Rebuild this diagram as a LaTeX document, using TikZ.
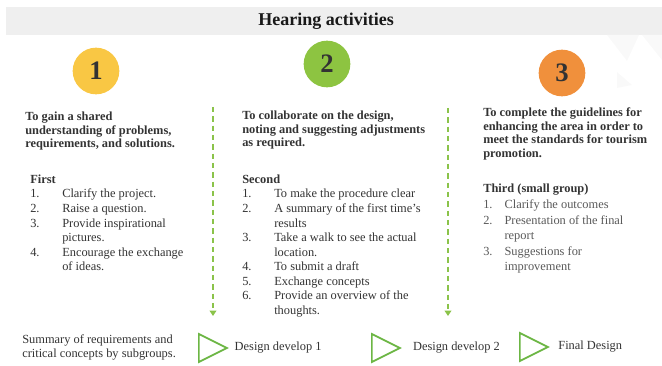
\documentclass[tikz,border=0pt]{standalone}
\usepackage{fontspec}
\setmainfont{Liberation Serif}
\usetikzlibrary{positioning,arrows.meta,shapes.geometric}

\definecolor{stepyellow}{HTML}{F9C744}
\definecolor{stepgreen}{HTML}{8DC441}
\definecolor{steporange}{HTML}{F0903C}
\definecolor{flowgreen}{HTML}{8BC34A}
\definecolor{markgreen}{HTML}{6CB644}
\definecolor{bandgray}{HTML}{EFEFEF}
\definecolor{inkgray}{HTML}{333333}

\newcommand{\bodysize}{\fontsize{9.3}{10.9}\selectfont}

\begin{document}
\begin{tikzpicture}[x=0.75pt, y=-0.75pt, font=\bodysize, text=inkgray,
	badge/.style = { circle, minimum size=35pt, inner sep=0pt,
	font=\fontsize{20}{20}\bfseries\selectfont, text=black!80 },
	heading/.style = { anchor=north west, inner sep=0pt, align=left,
	font=\fontsize{9.3}{10.1}\bfseries\selectfont },
	steps/.style = { anchor=north west, inner sep=0pt },
	flow/.style = { draw=flowgreen, line width=1.5pt,
	dash pattern=on 4pt off 3pt, -{Triangle[width=5pt,length=4pt]} },
	marker/.style = { isosceles triangle, isosceles triangle stretches,
	draw=markgreen, line width=1.3pt, minimum width=21pt,
	minimum height=21pt, inner sep=0pt, anchor=west },
	caption/.style = { anchor=west, inner sep=0pt, align=left } ]

  \useasboundingbox (0,0) rectangle (662,366);

  % title band and the faint marks behind it
  \fill [bandgray] (6,7) rectangle (662,35);
  \fill [gray!5] (607,35) -- (639,35) -- (627,61) -- cycle;
  \fill [gray!5] (642,35) -- (662,35) -- (662,60) -- cycle;
  \fill [gray!5] (617,72) -- (617,88) -- (632,85) -- cycle;
  \node [name=title, font=\fontsize{13.5}{16}\bfseries\selectfont,
	text=black!90] at (326,21) { Hearing activities };

  % numbered badges
  \node [name=one, badge, fill=stepyellow] at (96,71) { 1 };
  \node [name=two, badge, fill=stepgreen] at (327,64) { 2 };
  \node [name=three, badge, fill=steporange] at (562,73) { 3 };

  % first session
  \node [name=aim1, heading] at (25,112)
	{ To gain a shared\\ understanding of problems,\\
	requirements, and solutions. };
  \node [name=list1, steps] at (30,173) {
	\begin{tabular}{@{}p{24pt}@{}l@{}}
	\multicolumn{2}{@{}l@{}}{\textbf{First}}\\
	1. & Clarify the project.\\
	2. & Raise a question.\\
	3. & Provide inspirational\\
	   & pictures.\\
	4. & Encourage the exchange\\
	   & of ideas.
	\end{tabular} };

  % second session
  \node [name=aim2, heading] at (242,111)
	{ To collaborate on the design,\\ noting and suggesting adjustments\\
	as required. };
  \node [name=list2, steps] at (242,173) {
	\begin{tabular}{@{}p{24pt}@{}l@{}}
	\multicolumn{2}{@{}l@{}}{\textbf{Second}}\\
	1. & To make the procedure clear\\
	2. & A summary of the first time's\\
	   & results\\
	3. & Take a walk to see the actual\\
	   & location.\\
	4. & To submit a draft\\
	5. & Exchange concepts\\
	6. & Provide an overview of the\\
	   & thoughts.
	\end{tabular} };

  % third session
  \node [name=aim3, heading] at (483,108)
	{ To complete the guidelines for\\ enhancing the area in order to\\
	meet the standards for tourism\\ promotion. };
  \node [name=list3, steps, text=black!65] at (483,182) {
	\begin{tabular}{@{}p{16pt}@{}l@{}}
	\multicolumn{2}{@{}l@{}}{\textcolor{inkgray}{\textbf{Third (small group)}}}\\[1pt]
	1. & Clarify the outcomes\\[1.5pt]
	2. & Presentation of the final\\
	   & report\\[1.5pt]
	3. & Suggestions for\\
	   & improvement
	\end{tabular} };

  % flow between the sessions
  \coordinate (flow1top) at (213,107);
  \coordinate (flow1end) at (213,316);
  \coordinate (flow2top) at (448,108);
  \coordinate (flow2end) at (448,316);
  \draw [flow] (flow1top) -- (flow1end);
  \draw [flow] (flow2top) -- (flow2end);

  % outcomes along the bottom
  \node [name=summary, caption, font=\fontsize{9.3}{10.5}\selectfont]
	at (22,347) { Summary of requirements and\\ critical concepts by subgroups. };
  \node [name=mark1, marker] at (198,348) {};
  \node [name=dev1, caption, right=4pt of mark1.east] { Design develop 1 };
  \node [name=mark2, marker] at (371,348) {};
  \node [name=dev2, caption, right=8pt of mark2.east] { Design develop 2 };
  \node [name=mark3, marker] at (519,347) {};
  \node [name=final, caption, right=6pt of mark3.east] { Final Design };
\end{tikzpicture}
\end{document}
